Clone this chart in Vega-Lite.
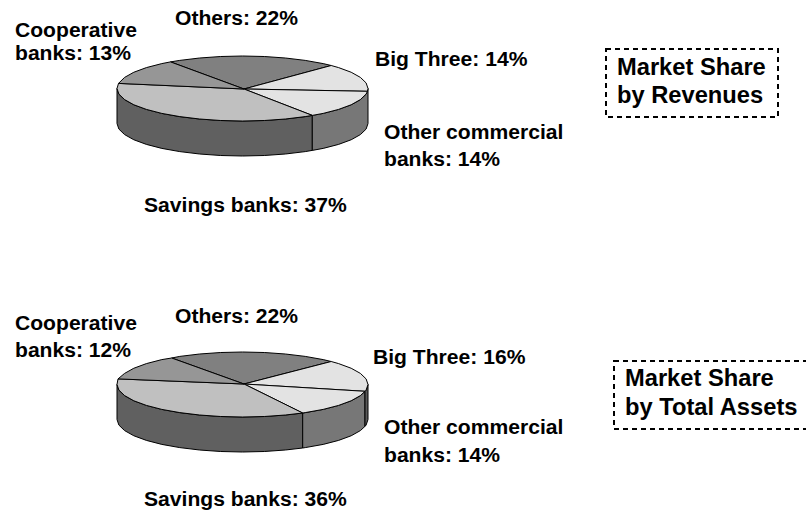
{"$schema":"https://vega.github.io/schema/vega-lite/v6.json","width":806,"height":511,"autosize":{"type":"fit","contains":"padding"},"padding":0,"background":"white","view":{"stroke":null},
"datasets":{"slices":[
{"s":"r1","p":"Savings side","o":1,"x":312.3,"y":115.4},{"s":"r1","p":"Savings side","o":2,"x":305.25,"y":116.6},{"s":"r1","p":"Savings side","o":3,"x":285.4,"y":119},{"s":"r1","p":"Savings side","o":4,"x":264.3,"y":120.5},{"s":"r1","p":"Savings side","o":5,"x":242.5,"y":121},{"s":"r1","p":"Savings side","o":6,"x":220.7,"y":120.5},{"s":"r1","p":"Savings side","o":7,"x":199.6,"y":119},{"s":"r1","p":"Savings side","o":8,"x":179.75,"y":116.6},{"s":"r1","p":"Savings side","o":9,"x":161.8,"y":113.4},{"s":"r1","p":"Savings side","o":10,"x":146.4,"y":109.4},{"s":"r1","p":"Savings side","o":11,"x":133.8,"y":104.75},{"s":"r1","p":"Savings side","o":12,"x":124.6,"y":99.6},{"s":"r1","p":"Savings side","o":13,"x":118.9,"y":94.1},{"s":"r1","p":"Savings side","o":14,"x":117,"y":88.5},{"s":"r1","p":"Savings side","o":15,"x":117,"y":123.5},{"s":"r1","p":"Savings side","o":16,"x":118.9,"y":129.1},{"s":"r1","p":"Savings side","o":17,"x":124.6,"y":134.6},{"s":"r1","p":"Savings side","o":18,"x":133.8,"y":139.75},{"s":"r1","p":"Savings side","o":19,"x":146.4,"y":144.4},{"s":"r1","p":"Savings side","o":20,"x":161.8,"y":148.4},{"s":"r1","p":"Savings side","o":21,"x":179.75,"y":151.6},{"s":"r1","p":"Savings side","o":22,"x":199.6,"y":154},{"s":"r1","p":"Savings side","o":23,"x":220.7,"y":155.5},{"s":"r1","p":"Savings side","o":24,"x":242.5,"y":156},{"s":"r1","p":"Savings side","o":25,"x":264.3,"y":155.5},{"s":"r1","p":"Savings side","o":26,"x":285.4,"y":154},{"s":"r1","p":"Savings side","o":27,"x":305.25,"y":151.6},{"s":"r1","p":"Savings side","o":28,"x":312.3,"y":150.4},{"s":"r1","p":"Savings side","o":29,"x":312.3,"y":115.4},
{"s":"r2","p":"Other side","o":1,"x":368,"y":88.5},{"s":"r2","p":"Other side","o":2,"x":366.1,"y":94.1},{"s":"r2","p":"Other side","o":3,"x":360.4,"y":99.6},{"s":"r2","p":"Other side","o":4,"x":351.2,"y":104.75},{"s":"r2","p":"Other side","o":5,"x":338.6,"y":109.4},{"s":"r2","p":"Other side","o":6,"x":323.2,"y":113.4},{"s":"r2","p":"Other side","o":7,"x":312.3,"y":115.4},{"s":"r2","p":"Other side","o":8,"x":312.3,"y":150.4},{"s":"r2","p":"Other side","o":9,"x":323.2,"y":148.4},{"s":"r2","p":"Other side","o":10,"x":338.6,"y":144.4},{"s":"r2","p":"Other side","o":11,"x":351.2,"y":139.75},{"s":"r2","p":"Other side","o":12,"x":360.4,"y":134.6},{"s":"r2","p":"Other side","o":13,"x":366.1,"y":129.1},{"s":"r2","p":"Other side","o":14,"x":368,"y":123.5},{"s":"r2","p":"Other side","o":15,"x":368,"y":88.5},
{"s":"r3","p":"Others","o":1,"x":244,"y":89},{"s":"r3","p":"Others","o":2,"x":170.5,"y":61.9},{"s":"r3","p":"Others","o":3,"x":179.75,"y":60.4},{"s":"r3","p":"Others","o":4,"x":199.6,"y":58},{"s":"r3","p":"Others","o":5,"x":220.7,"y":56.5},{"s":"r3","p":"Others","o":6,"x":242.5,"y":56},{"s":"r3","p":"Others","o":7,"x":264.3,"y":56.5},{"s":"r3","p":"Others","o":8,"x":285.4,"y":58},{"s":"r3","p":"Others","o":9,"x":305.25,"y":60.4},{"s":"r3","p":"Others","o":10,"x":323.2,"y":63.6},{"s":"r3","p":"Others","o":11,"x":331.2,"y":65.5},{"s":"r3","p":"Others","o":12,"x":244,"y":89},
{"s":"r4","p":"Big Three","o":1,"x":244,"y":89},{"s":"r4","p":"Big Three","o":2,"x":331.2,"y":65.5},{"s":"r4","p":"Big Three","o":3,"x":338.6,"y":67.6},{"s":"r4","p":"Big Three","o":4,"x":351.2,"y":72.25},{"s":"r4","p":"Big Three","o":5,"x":360.4,"y":77.4},{"s":"r4","p":"Big Three","o":6,"x":366.1,"y":82.9},{"s":"r4","p":"Big Three","o":7,"x":368,"y":88.5},{"s":"r4","p":"Big Three","o":8,"x":367.5,"y":91.3},{"s":"r4","p":"Big Three","o":9,"x":244,"y":89},
{"s":"r5","p":"Other commercial","o":1,"x":244,"y":89},{"s":"r5","p":"Other commercial","o":2,"x":367.5,"y":91.3},{"s":"r5","p":"Other commercial","o":3,"x":366.1,"y":94.1},{"s":"r5","p":"Other commercial","o":4,"x":360.4,"y":99.6},{"s":"r5","p":"Other commercial","o":5,"x":351.2,"y":104.75},{"s":"r5","p":"Other commercial","o":6,"x":338.6,"y":109.4},{"s":"r5","p":"Other commercial","o":7,"x":323.2,"y":113.4},{"s":"r5","p":"Other commercial","o":8,"x":312.3,"y":115.4},{"s":"r5","p":"Other commercial","o":9,"x":244,"y":89},
{"s":"r6","p":"Savings","o":1,"x":244,"y":89},{"s":"r6","p":"Savings","o":2,"x":312.3,"y":115.4},{"s":"r6","p":"Savings","o":3,"x":305.25,"y":116.6},{"s":"r6","p":"Savings","o":4,"x":285.4,"y":119},{"s":"r6","p":"Savings","o":5,"x":264.3,"y":120.5},{"s":"r6","p":"Savings","o":6,"x":242.5,"y":121},{"s":"r6","p":"Savings","o":7,"x":220.7,"y":120.5},{"s":"r6","p":"Savings","o":8,"x":199.6,"y":119},{"s":"r6","p":"Savings","o":9,"x":179.75,"y":116.6},{"s":"r6","p":"Savings","o":10,"x":161.8,"y":113.4},{"s":"r6","p":"Savings","o":11,"x":146.4,"y":109.4},{"s":"r6","p":"Savings","o":12,"x":133.8,"y":104.75},{"s":"r6","p":"Savings","o":13,"x":124.6,"y":99.6},{"s":"r6","p":"Savings","o":14,"x":118.9,"y":94.1},{"s":"r6","p":"Savings","o":15,"x":117,"y":88.5},{"s":"r6","p":"Savings","o":16,"x":118.5,"y":83.4},{"s":"r6","p":"Savings","o":17,"x":244,"y":89},
{"s":"r7","p":"Cooperative","o":1,"x":244,"y":89},{"s":"r7","p":"Cooperative","o":2,"x":118.5,"y":83.4},{"s":"r7","p":"Cooperative","o":3,"x":124.6,"y":77.4},{"s":"r7","p":"Cooperative","o":4,"x":133.8,"y":72.25},{"s":"r7","p":"Cooperative","o":5,"x":146.4,"y":67.6},{"s":"r7","p":"Cooperative","o":6,"x":161.8,"y":63.6},{"s":"r7","p":"Cooperative","o":7,"x":170.5,"y":61.9},{"s":"r7","p":"Cooperative","o":8,"x":244,"y":89},
{"s":"a1","p":"Savings side","o":1,"x":302.7,"y":413},{"s":"a1","p":"Savings side","o":2,"x":285.4,"y":415},{"s":"a1","p":"Savings side","o":3,"x":264.3,"y":416.5},{"s":"a1","p":"Savings side","o":4,"x":242.5,"y":417},{"s":"a1","p":"Savings side","o":5,"x":220.7,"y":416.5},{"s":"a1","p":"Savings side","o":6,"x":199.6,"y":415},{"s":"a1","p":"Savings side","o":7,"x":179.75,"y":412.6},{"s":"a1","p":"Savings side","o":8,"x":161.8,"y":409.4},{"s":"a1","p":"Savings side","o":9,"x":146.4,"y":405.4},{"s":"a1","p":"Savings side","o":10,"x":133.8,"y":400.75},{"s":"a1","p":"Savings side","o":11,"x":124.6,"y":395.6},{"s":"a1","p":"Savings side","o":12,"x":118.9,"y":390.1},{"s":"a1","p":"Savings side","o":13,"x":117,"y":384.5},{"s":"a1","p":"Savings side","o":14,"x":117,"y":419.5},{"s":"a1","p":"Savings side","o":15,"x":118.9,"y":425.1},{"s":"a1","p":"Savings side","o":16,"x":124.6,"y":430.6},{"s":"a1","p":"Savings side","o":17,"x":133.8,"y":435.75},{"s":"a1","p":"Savings side","o":18,"x":146.4,"y":440.4},{"s":"a1","p":"Savings side","o":19,"x":161.8,"y":444.4},{"s":"a1","p":"Savings side","o":20,"x":179.75,"y":447.6},{"s":"a1","p":"Savings side","o":21,"x":199.6,"y":450},{"s":"a1","p":"Savings side","o":22,"x":220.7,"y":451.5},{"s":"a1","p":"Savings side","o":23,"x":242.5,"y":452},{"s":"a1","p":"Savings side","o":24,"x":264.3,"y":451.5},{"s":"a1","p":"Savings side","o":25,"x":285.4,"y":450},{"s":"a1","p":"Savings side","o":26,"x":302.7,"y":448},{"s":"a1","p":"Savings side","o":27,"x":302.7,"y":413},
{"s":"a2","p":"Other side","o":1,"x":365,"y":391.3},{"s":"a2","p":"Other side","o":2,"x":360.4,"y":395.6},{"s":"a2","p":"Other side","o":3,"x":351.2,"y":400.75},{"s":"a2","p":"Other side","o":4,"x":338.6,"y":405.4},{"s":"a2","p":"Other side","o":5,"x":323.2,"y":409.4},{"s":"a2","p":"Other side","o":6,"x":305.25,"y":412.6},{"s":"a2","p":"Other side","o":7,"x":302.7,"y":413},{"s":"a2","p":"Other side","o":8,"x":302.7,"y":448},{"s":"a2","p":"Other side","o":9,"x":305.25,"y":447.6},{"s":"a2","p":"Other side","o":10,"x":323.2,"y":444.4},{"s":"a2","p":"Other side","o":11,"x":338.6,"y":440.4},{"s":"a2","p":"Other side","o":12,"x":351.2,"y":435.75},{"s":"a2","p":"Other side","o":13,"x":360.4,"y":430.6},{"s":"a2","p":"Other side","o":14,"x":365,"y":426.3},{"s":"a2","p":"Other side","o":15,"x":365,"y":391.3},
{"s":"a2b","p":"Big side","o":1,"x":368,"y":384.5},{"s":"a2b","p":"Big side","o":2,"x":366.1,"y":390.1},{"s":"a2b","p":"Big side","o":3,"x":365,"y":391.3},{"s":"a2b","p":"Big side","o":4,"x":365,"y":426.3},{"s":"a2b","p":"Big side","o":5,"x":366.1,"y":425.1},{"s":"a2b","p":"Big side","o":6,"x":368,"y":419.5},{"s":"a2b","p":"Big side","o":7,"x":368,"y":384.5},
{"s":"a3","p":"Others","o":1,"x":244,"y":384},{"s":"a3","p":"Others","o":2,"x":171.7,"y":358},{"s":"a3","p":"Others","o":3,"x":179.75,"y":356.4},{"s":"a3","p":"Others","o":4,"x":199.6,"y":354},{"s":"a3","p":"Others","o":5,"x":220.7,"y":352.5},{"s":"a3","p":"Others","o":6,"x":242.5,"y":352},{"s":"a3","p":"Others","o":7,"x":264.3,"y":352.5},{"s":"a3","p":"Others","o":8,"x":285.4,"y":354},{"s":"a3","p":"Others","o":9,"x":305.25,"y":356.4},{"s":"a3","p":"Others","o":10,"x":323.2,"y":359.6},{"s":"a3","p":"Others","o":11,"x":331.2,"y":361.5},{"s":"a3","p":"Others","o":12,"x":244,"y":384},
{"s":"a4","p":"Big Three","o":1,"x":244,"y":384},{"s":"a4","p":"Big Three","o":2,"x":331.2,"y":361.5},{"s":"a4","p":"Big Three","o":3,"x":338.6,"y":363.6},{"s":"a4","p":"Big Three","o":4,"x":351.2,"y":368.25},{"s":"a4","p":"Big Three","o":5,"x":360.4,"y":373.4},{"s":"a4","p":"Big Three","o":6,"x":366.1,"y":378.9},{"s":"a4","p":"Big Three","o":7,"x":368,"y":384.5},{"s":"a4","p":"Big Three","o":8,"x":366.1,"y":390.1},{"s":"a4","p":"Big Three","o":9,"x":365,"y":391.3},{"s":"a4","p":"Big Three","o":10,"x":244,"y":384},
{"s":"a5","p":"Other commercial","o":1,"x":244,"y":384},{"s":"a5","p":"Other commercial","o":2,"x":365,"y":391.3},{"s":"a5","p":"Other commercial","o":3,"x":360.4,"y":395.6},{"s":"a5","p":"Other commercial","o":4,"x":351.2,"y":400.75},{"s":"a5","p":"Other commercial","o":5,"x":338.6,"y":405.4},{"s":"a5","p":"Other commercial","o":6,"x":323.2,"y":409.4},{"s":"a5","p":"Other commercial","o":7,"x":305.25,"y":412.6},{"s":"a5","p":"Other commercial","o":8,"x":302.7,"y":413},{"s":"a5","p":"Other commercial","o":9,"x":244,"y":384},
{"s":"a6","p":"Savings","o":1,"x":244,"y":384},{"s":"a6","p":"Savings","o":2,"x":302.7,"y":413},{"s":"a6","p":"Savings","o":3,"x":285.4,"y":415},{"s":"a6","p":"Savings","o":4,"x":264.3,"y":416.5},{"s":"a6","p":"Savings","o":5,"x":242.5,"y":417},{"s":"a6","p":"Savings","o":6,"x":220.7,"y":416.5},{"s":"a6","p":"Savings","o":7,"x":199.6,"y":415},{"s":"a6","p":"Savings","o":8,"x":179.75,"y":412.6},{"s":"a6","p":"Savings","o":9,"x":161.8,"y":409.4},{"s":"a6","p":"Savings","o":10,"x":146.4,"y":405.4},{"s":"a6","p":"Savings","o":11,"x":133.8,"y":400.75},{"s":"a6","p":"Savings","o":12,"x":124.6,"y":395.6},{"s":"a6","p":"Savings","o":13,"x":118.9,"y":390.1},{"s":"a6","p":"Savings","o":14,"x":117,"y":384.5},{"s":"a6","p":"Savings","o":15,"x":118,"y":378.9},{"s":"a6","p":"Savings","o":16,"x":244,"y":384},
{"s":"a7","p":"Cooperative","o":1,"x":244,"y":384},{"s":"a7","p":"Cooperative","o":2,"x":118,"y":378.9},{"s":"a7","p":"Cooperative","o":3,"x":124.6,"y":373.4},{"s":"a7","p":"Cooperative","o":4,"x":133.8,"y":368.25},{"s":"a7","p":"Cooperative","o":5,"x":146.4,"y":363.6},{"s":"a7","p":"Cooperative","o":6,"x":161.8,"y":359.6},{"s":"a7","p":"Cooperative","o":7,"x":171.7,"y":358},{"s":"a7","p":"Cooperative","o":8,"x":244,"y":384}
],
"labels":[
{"t":"Cooperative","x":15,"y":37},{"t":"banks: 13%","x":15,"y":60},{"t":"Others: 22%","x":175,"y":25},{"t":"Big Three: 14%","x":375,"y":66},{"t":"Other commercial","x":384,"y":139},{"t":"banks: 14%","x":384,"y":166},{"t":"Savings banks: 37%","x":144,"y":212},
{"t":"Cooperative","x":15,"y":330},{"t":"banks: 12%","x":15,"y":357},{"t":"Others: 22%","x":175,"y":323},{"t":"Big Three: 16%","x":373,"y":364},{"t":"Other commercial","x":384,"y":434},{"t":"banks: 14%","x":384,"y":462},{"t":"Savings banks: 36%","x":144,"y":506}],
"titles":[{"t":"Market Share","x":617,"y":75},{"t":"by Revenues","x":617,"y":103},{"t":"Market Share","x":625,"y":386},{"t":"by Total Assets","x":625,"y":415}],
"boxes":[{"x":606,"x2":778,"y":49,"y2":117},{"x":614,"x2":812,"y":361,"y2":429}]},
"layer":[
{"data":{"name":"boxes"},"mark":{"type":"rect","fill":"white","stroke":"black","strokeWidth":2,"strokeDash":[5,4],"clip":true},"encoding":{"x":{"field":"x","type":"quantitative","scale":{"domain":[0,806],"nice":false,"zero":false},"axis":null},"x2":{"field":"x2"},"y":{"field":"y","type":"quantitative","scale":{"domain":[511,0],"nice":false,"zero":false},"axis":null},"y2":{"field":"y2"}}},
{"data":{"name":"slices"},"mark":{"type":"line","stroke":"black","strokeWidth":1,"strokeJoin":"round","interpolate":"linear"},"encoding":{"x":{"field":"x","type":"quantitative"},"y":{"field":"y","type":"quantitative"},"detail":{"field":"s"},"order":{"field":"o","type":"quantitative"},"fill":{"field":"p","type":"nominal","legend":null,"scale":{"domain":["Others","Big Three","Other commercial","Savings","Cooperative","Savings side","Other side","Big side"],"range":["#808080","#e3e3e3","#e3e3e3","#c0c0c0","#969696","#606060","#777777","#5a5a5a"]}}}},
{"data":{"name":"labels"},"mark":{"type":"text","align":"left","baseline":"alphabetic","font":"Liberation Sans","fontWeight":"bold","fontSize":21.1,"fill":"black"},"encoding":{"x":{"field":"x","type":"quantitative"},"y":{"field":"y","type":"quantitative"},"text":{"field":"t"}}},
{"data":{"name":"titles"},"mark":{"type":"text","align":"left","baseline":"alphabetic","font":"Liberation Sans","fontWeight":"bold","fontSize":23.7,"fill":"black"},"encoding":{"x":{"field":"x","type":"quantitative"},"y":{"field":"y","type":"quantitative"},"text":{"field":"t"}}}
]}
